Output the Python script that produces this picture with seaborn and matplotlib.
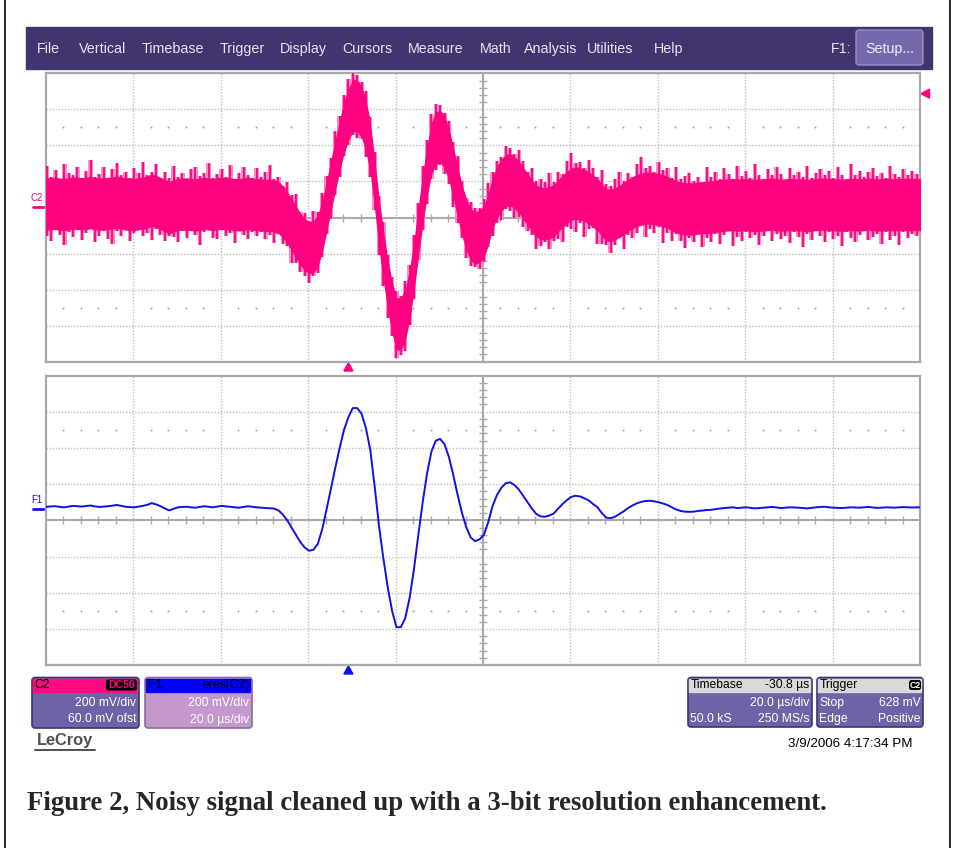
import numpy as np
import matplotlib
matplotlib.use("Agg")
import matplotlib.pyplot as plt
import matplotlib.patches as mpatches
import seaborn as sns

sns.set_style("white")
plt.rcParams['font.family'] = ['Liberation Sans', 'DejaVu Sans']

''' DATA READ OFF THE SCOPE SCREEN
one sample per microsecond, first sample at -70 us (trigger at 0)
'''
t_start_us = -70

# F1 = eres(C2), mV
f1_mv = [
    14, 15, 17, 18, 14, 12, 16, 20, 18, 16,
    19, 22, 17, 14, 16, 18, 21, 25, 20, 15,
    13, 12, 16, 20, 26, 35, 28, 18, 6, -5,
    4, 12, 14, 15, 12, 10, 14, 18, 15, 12,
    16, 20, 17, 15, 12, 10, 14, 18, 15, 12,
    10, 8, 7, 5, -5, -28, -60, -100, -140, -180,
    -210, -228, -222, -190, -110, 0, 115, 230, 340, 440,
    510, 560, 560, 530, 450, 330, 130, -90, -270, -430,
    -560, -650, -650, -600, -490, -330, -140, 40, 200, 320,
    380, 390, 360, 290, 190, 80, -20, -100, -155, -175,
    -165, -140, -70, 20, 80, 120, 145, 150, 135, 110,
    75, 40, 5, -25, -38, -40, -33, -22, 5, 30,
    52, 70, 76, 72, 62, 50, 30, 12, -20, -45,
    -48, -40, -25, -10, 8, 22, 34, 42, 47, 48,
    45, 40, 33, 25, 12, 0, -8, -12, -13, -12,
    -8, -6, -3, -2, 2, 5, 8, 10, 12, 8,
    10, 12, 9, 6, 8, 10, 12, 14, 11, 8,
    10, 12, 11, 10, 8, 6, 9, 12, 14, 15,
    12, 10, 9, 8, 10, 12, 11, 10, 12, 14,
    11, 9, 10, 12, 11, 10, 12, 13, 12, 11,
    12, 12,
]

# C2 raw: noise peaks above / below the clean signal, mV
c2_up_mv = [
    160, 210, 150, 185, 140, 225, 170, 155, 200, 145,
    180, 235, 150, 165, 205, 140, 190, 215, 155, 175,
    145, 200, 170, 230, 150, 160, 210, 140, 185, 165,
    220, 150, 175, 140, 195, 210, 155, 170, 230, 145,
    165, 190, 150, 215, 140, 175, 205, 160, 145, 200,
    155, 185, 225, 150, 170, 140, 195, 165, 210, 150,
    175, 150, 200, 160, 185, 170, 155, 190, 165, 180,
    200, 180, 170, 160, 190, 165, 175, 150, 185, 160,
    170, 180, 155, 190, 165, 175, 160, 185, 170, 195,
    190, 175, 160, 185, 170, 200, 165, 150, 180, 170,
    160, 185, 200, 170, 175, 155, 190, 175, 160, 205,
    180, 150, 210, 165, 190, 175, 220, 160, 185, 150,
    200, 230, 165, 175, 155, 210, 185, 150, 225, 170,
    160, 195, 215, 150, 180, 140, 205, 235, 165, 175,
    150, 210, 170, 190, 145, 220, 160, 180, 200, 155,
    175, 145, 225, 165, 190, 150, 205, 170, 140, 215,
    160, 185, 150, 230, 170, 145, 195, 160, 210, 175,
    140, 200, 165, 185, 155, 220, 150, 175, 195, 160,
    185, 150, 210, 170, 145, 225, 165, 190, 155, 180,
    205, 160, 175, 145, 215, 170, 150, 195, 165, 185,
    170, 160,
]
c2_dn_mv = [
    150, 180, 205, 145, 170, 225, 155, 190, 140, 200,
    165, 145, 215, 175, 150, 195, 230, 160, 180, 145,
    205, 160, 140, 185, 170, 220, 150, 175, 195, 155,
    170, 210, 150, 190, 145, 165, 225, 160, 140, 185,
    195, 150, 180, 160, 215, 145, 170, 200, 155, 175,
    150, 190, 165, 205, 145, 180, 160, 215, 170, 185,
    175, 195, 160, 180, 170, 150, 185, 165, 175, 160,
    170, 160, 180, 155, 175, 165, 150, 180, 170, 185,
    160, 190, 175, 200, 165, 180, 155, 170, 185, 165,
    175, 160, 180, 165, 190, 170, 155, 185, 175, 160,
    180, 165, 155, 185, 170, 195, 160, 175, 200, 165,
    190, 175, 160, 210, 180, 155, 200, 170, 185, 225,
    165, 195, 215, 160, 230, 175, 150, 220, 185, 170,
    210, 175, 150, 225, 165, 195, 180, 145, 215, 170,
    190, 155, 235, 170, 200, 150, 180, 215, 160, 185,
    145, 220, 170, 195, 155, 210, 165, 140, 230, 175,
    200, 150, 185, 165, 220, 175, 145, 205, 160, 190,
    170, 215, 150, 180, 230, 160, 195, 145, 175, 210,
    155, 190, 170, 225, 150, 185, 205, 165, 140, 200,
    180, 160, 215, 150, 195, 170, 225, 155, 185, 165,
    175, 190,
]
C2_CORE_MV = 145     # solid part of the noise band, +/- mV

menu_items = ["File", "Vertical", "Timebase", "Trigger", "Display", "Cursors",
              "Measure", "Math", "Analysis", "Utilities", "Help"]

# scope settings
X0 = -69.2          # left edge of screen, us
XDIV = 20.0         # us / div
VDIV = 200.0        # mV / div
OFS = 60.0          # mV offset
TRIG_MV = 628.0

PINK = "#ff0080"
BLUE = "#1010e8"
GRID = "#bdbdbd"
FRAME = "#a9a9a9"

t_us = np.arange(t_start_us, t_start_us + len(f1_mv))
f1 = np.array(f1_mv, dtype=float)
c2_hi = f1 + np.array(c2_up_mv)
c2_lo = f1 - np.array(c2_dn_mv)

W, H = 954, 848
fig = plt.figure(figsize=(W / 100, H / 100), dpi=100)
fig.patch.set_facecolor("white")

# overlay in pixel coordinates for the scope chrome
ov = fig.add_axes([0, 0, 1, 1])
ov.set_xlim(0, W)
ov.set_ylim(H, 0)
ov.axis("off")


def px_rect(x0, y0, x1, y1):
    return [x0 / W, 1 - y1 / H, (x1 - x0) / W, (y1 - y0) / H]


def scope_axes(rect):
    ax = fig.add_axes(rect)
    ax.set_xlim(X0, X0 + 10 * XDIV)
    ax.set_ylim(-4 * VDIV - OFS, 4 * VDIV - OFS)
    ax.set_xticks([])
    ax.set_yticks([])
    xc = X0 + 5 * XDIV
    yc = -OFS
    for k in range(1, 10):
        x = X0 + k * XDIV
        if k == 5:
            ax.axvline(x, color=FRAME, lw=1.5, zorder=1)
        else:
            ax.axvline(x, color=GRID, lw=1.0, ls=(0, (1, 1.2)), zorder=1)
    for k in range(1, 8):
        y = yc - 4 * VDIV + k * VDIV
        if k == 4:
            ax.axhline(y, color=FRAME, lw=1.5, zorder=1)
        else:
            ax.axhline(y, color=GRID, lw=1.0, ls=(0, (1, 1.2)), zorder=1)
    # minor ticks on the centre cross and dotted rows
    mx = X0 + np.arange(1, 50) * XDIV / 5
    mx = mx[np.arange(1, 50) % 5 != 0]
    ax.plot(mx, np.full(len(mx), yc), ls="none", marker="|", ms=6,
            mew=1.0, color=FRAME, zorder=1)
    my = yc - 4 * VDIV + np.arange(1, 40) * VDIV / 5
    my = my[np.arange(1, 40) % 5 != 0]
    ax.plot(np.full(len(my), xc), my, ls="none", marker="_", ms=6,
            mew=1.0, color=FRAME, zorder=1)
    for yr in (yc + 2.5 * VDIV, yc - 2.5 * VDIV):
        ax.plot(mx, np.full(len(mx), yr), ls="none", marker="s", ms=1.2,
                mew=0, color="#9a9a9a", zorder=1)
    for s in ax.spines.values():
        s.set_color(FRAME)
        s.set_linewidth(1.6)
    return ax


ax1 = scope_axes(px_rect(46, 73.3, 920, 361.7))
ax2 = scope_axes(px_rect(46, 375.5, 920, 665.2))

# C2 raw noisy trace: faint envelope, noise spikes, solid core
ax1.fill_between(t_us, c2_lo, c2_hi, step="mid", color="#ff8cc4", lw=0, zorder=2)
ax1.vlines(t_us, c2_lo, c2_hi, color=PINK, lw=1.3, zorder=3)
ax1.fill_between(t_us, f1 - C2_CORE_MV, f1 + C2_CORE_MV, color=PINK, lw=0, zorder=3)

# F1 enhanced resolution trace
sns.lineplot(x=t_us, y=f1, ax=ax2, color=BLUE, lw=1.4, zorder=3)
ax2.set_xlabel("")
ax2.set_ylabel("")

# ---- menu bar
ov.add_patch(mpatches.Rectangle((26, 27), 906, 42, color="#41346f", zorder=1))
menu_x = [36.7, 79.3, 141.7, 220, 280, 342.7, 408.3, 479.5, 524, 587, 654]
for lab, x in zip(menu_items, menu_x):
    ov.text(x, 53.3, lab, color="#e6e4f0", fontsize=10.3, va="baseline", ha="left")
ov.text(831, 53.3, "F1:", color="#e6e4f0", fontsize=10.3, va="baseline", ha="left")
ov.add_patch(mpatches.FancyBboxPatch((856, 30), 67, 35,
             boxstyle="round,pad=0,rounding_size=3", fc="#7669ab",
             ec="#9a90c8", lw=1, zorder=2))
ov.text(889.5, 53.3, "Setup...", color="#eeeef6", fontsize=10.3,
        va="baseline", ha="center", zorder=3)

# ---- channel markers
y0_c2 = 217.5 - OFS / VDIV * 36
y0_f1 = 520.3 - OFS / VDIV * 36.2
ov.text(31, 198, "C2", color=PINK, fontsize=7, va="center", ha="left")
ov.plot([33, 45.5], [y0_c2, y0_c2], color=PINK, lw=2)
ov.text(31, 500, "F1", color=BLUE, fontsize=7, va="center", ha="left")
ov.plot([33, 45.5], [y0_f1, y0_f1], color=BLUE, lw=2)

# trigger level and trigger position markers
yt = 217.5 - (TRIG_MV + OFS) / VDIV * 36
ov.add_patch(mpatches.Polygon([(921, yt), (929.5, yt - 4.5), (929.5, yt + 4.5)],
                              color=PINK))
xt = 46 + (0 - X0) / XDIV * 87.4
ov.add_patch(mpatches.Polygon([(xt - 4.5, 371), (xt + 4.5, 371), (xt, 362.5)],
                              color=PINK))
ov.add_patch(mpatches.Polygon([(xt - 4.5, 674), (xt + 4.5, 674), (xt, 665.8)],
                              color=BLUE))


# ---- info boxes
def info_box(x0, x1, head_c, body_c, edge_c, y0=677.5, y1=728):
    ov.add_patch(mpatches.FancyBboxPatch((x0, y0), x1 - x0, y1 - y0,
                 boxstyle="round,pad=0,rounding_size=3", fc=body_c,
                 ec=edge_c, lw=1.2, zorder=2))
    ov.add_patch(mpatches.Rectangle((x0 + 1.5, y0 + 1.2), x1 - x0 - 3, 13.5,
                 color=head_c, zorder=3))


FS = 8.7
info_box(32, 139, "#ff0a80", "#6c64a6", "#3f3670")
ov.text(34, 685, "C2", color="black", fontsize=FS, va="center", zorder=4)
ov.add_patch(mpatches.FancyBboxPatch((106, 679.5), 31, 11,
             boxstyle="round,pad=0,rounding_size=2.5", fc="black", ec="none", zorder=4))
ov.text(121.5, 685, "DC50", color=PINK, fontsize=7.6, va="center", ha="center",
        fontweight="bold", zorder=5)
ov.text(136.5, 703, "200 mV/div", color="white", fontsize=FS, va="center", ha="right", zorder=4)
ov.text(136.5, 719.5, "60.0 mV ofst", color="white", fontsize=FS, va="center", ha="right", zorder=4)

info_box(145, 252, "#0000ff", "#c497cd", "#8c6c9c")
ov.text(148, 685, "F1", color="black", fontsize=FS, va="center", zorder=4)
ov.text(250, 685, "eres(C2)", color="black", fontsize=FS, va="center", ha="right", zorder=4)
ov.text(249.5, 703, "200 mV/div", color="white", fontsize=FS, va="center", ha="right", zorder=4)
ov.text(249.5, 719.5, "20.0 \u00b5s/div", color="white", fontsize=FS, va="center", ha="right", zorder=4)

info_box(688, 812, "#d9d9d9", "#6c64a6", "#3f3670", y1=727)
ov.text(690.5, 685, "Timebase", color="black", fontsize=FS, va="center", zorder=4)
ov.text(809.5, 685, "-30.8 \u00b5s", color="black", fontsize=FS, va="center", ha="right", zorder=4)
ov.text(809.5, 703, "20.0 \u00b5s/div", color="white", fontsize=FS, va="center", ha="right", zorder=4)
ov.text(690, 719, "50.0 kS", color="white", fontsize=FS, va="center", ha="left", zorder=4)
ov.text(809.5, 719, "250 MS/s", color="white", fontsize=FS, va="center", ha="right", zorder=4)

info_box(817, 923, "#d9d9d9", "#6c64a6", "#3f3670", y1=727)
ov.text(819.5, 685, "Trigger", color="black", fontsize=FS, va="center", zorder=4)
ov.add_patch(mpatches.FancyBboxPatch((909, 680), 12, 10,
             boxstyle="round,pad=0,rounding_size=2.5", fc="black", ec="none", zorder=4))
ov.text(915, 685, "C2", color="white", fontsize=6.3, va="center", ha="center",
        fontweight="bold", zorder=5)
ov.text(819, 703, "Stop", color="white", fontsize=FS, va="center", ha="left", zorder=4)
ov.text(920.5, 703, "628 mV", color="white", fontsize=FS, va="center", ha="right", zorder=4)
ov.text(819, 719, "Edge", color="white", fontsize=FS, va="center", ha="left", zorder=4)
ov.text(920.5, 719, "Positive", color="white", fontsize=FS, va="center", ha="right", zorder=4)

# LeCroy logo and time stamp
ov.text(36.5, 740.5, "LeCroy", color="#505050", fontsize=11.8, va="center",
        ha="left", fontweight="bold")
ov.plot([35.5, 95.5], [749.5, 749.5], color="#505050", lw=1.4)
ov.text(912.5, 744, "3/9/2006 4:17:34 PM", color="black", fontsize=9.6,
        va="center", ha="right")

# caption
ov.text(27, 803, "Figure 2, Noisy signal cleaned up with a 3-bit resolution enhancement.",
        family=["Liberation Serif", "DejaVu Serif"], fontweight="bold",
        fontsize=19.3, va="center", ha="left")

# page frame
ov.plot([5, 5], [0, H], color="black", lw=1.2)
ov.plot([950.5, 950.5], [0, H], color="black", lw=1.2)

fig.savefig("out.png", dpi=100)
